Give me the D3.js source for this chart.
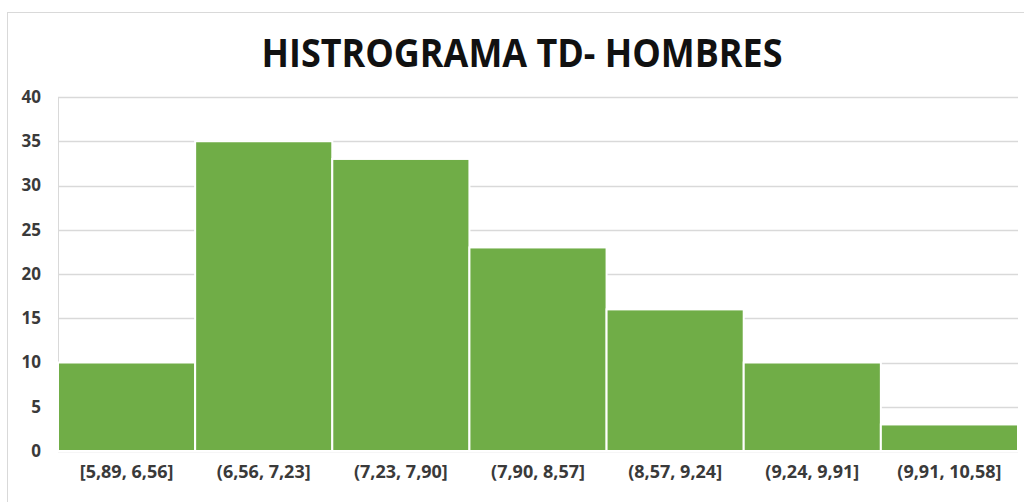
<!DOCTYPE html>
<html lang="es">
<head>
<meta charset="utf-8" />
<title>Histograma TD - Hombres</title>
<script src="https://d3js.org/d3.v7.min.js"></script>
<style>
    body { margin: 0; background: #fff; }
    .tick text { font-family: "Open Sans", sans-serif; font-weight: bold; fill: #3a3a3a; }
</style>
</head>
<body>
<div id="chart"></div>
<script>
    // data
    const categories = ["[5,89, 6,56]", "(6,56, 7,23]", "(7,23, 7,90]", "(7,90, 8,57]",
                        "(8,57, 9,24]", "(9,24, 9,91]", "(9,91, 10,58]"];
    const counts = [10, 35, 33, 23, 16, 10, 3];
    const yTicks = [0, 5, 10, 15, 20, 25, 30, 35, 40];
    const title = "HISTROGRAMA TD- HOMBRES";

    const W = 1024, H = 502;
    const margin = { top: 97, right: 6, bottom: 51, left: 58 },
        width = W - margin.left - margin.right,
        height = H - margin.top - margin.bottom;

    const svg = d3.select("#chart").append("svg")
        .attr("width", W)
        .attr("height", H);

    // chart border
    svg.append("rect")
        .attr("x", 7.5).attr("y", 12.5)
        .attr("width", W + 20).attr("height", H + 20)
        .attr("fill", "none")
        .attr("stroke", "#d9d9d9");

    // title
    svg.append("text")
        .attr("x", 522)
        .attr("y", 67)
        .attr("text-anchor", "middle")
        .attr("font-family", "'Open Sans', sans-serif")
        .attr("font-weight", "bold")
        .attr("font-size", 39)
        .attr("fill", "#111")
        .attr("textLength", 521)
        .attr("lengthAdjust", "spacingAndGlyphs")
        .text(title);

    const g = svg.append("g")
        .attr("transform", "translate(" + margin.left + "," + margin.top + ")");

    const x = d3.scaleBand().domain(categories).range([0, width]).padding(0);
    const y = d3.scaleLinear().domain([0, 40]).range([height, 0]);

    // gridlines
    g.append("g")
        .selectAll("line")
        .data(yTicks)
        .enter().append("line")
        .attr("x1", 0).attr("x2", width)
        .attr("y1", d => Math.round(y(d)) + 0.5)
        .attr("y2", d => Math.round(y(d)) + 0.5)
        .attr("stroke", "#d9d9d9")
        .attr("stroke-width", 1.5);

    g.append("line")
        .attr("x1", 0.5).attr("x2", 0.5)
        .attr("y1", 0).attr("y2", height)
        .attr("stroke", "#d9d9d9");

    // bars
    g.selectAll("rect.bar")
        .data(counts)
        .enter().append("rect")
        .attr("class", "bar")
        .attr("x", (d, i) => x(categories[i]))
        .attr("y", d => y(d))
        .attr("width", x.bandwidth())
        .attr("height", d => height - y(d))
        .attr("fill", "#70ad47")
        .attr("stroke", "#fff")
        .attr("stroke-width", 2);

    // y axis labels
    const yAxis = d3.axisLeft(y).tickValues(yTicks).tickSize(0).tickPadding(17);
    g.append("g").call(yAxis)
        .call(s => s.select(".domain").remove())
        .selectAll("text").attr("font-size", 17);

    // x axis labels
    const xAxis = d3.axisBottom(x).tickSize(0).tickPadding(14);
    g.append("g")
        .attr("transform", "translate(0," + height + ")")
        .call(xAxis)
        .call(s => s.select(".domain").remove())
        .selectAll("text").attr("font-size", 18);
</script>
</body>
</html>
